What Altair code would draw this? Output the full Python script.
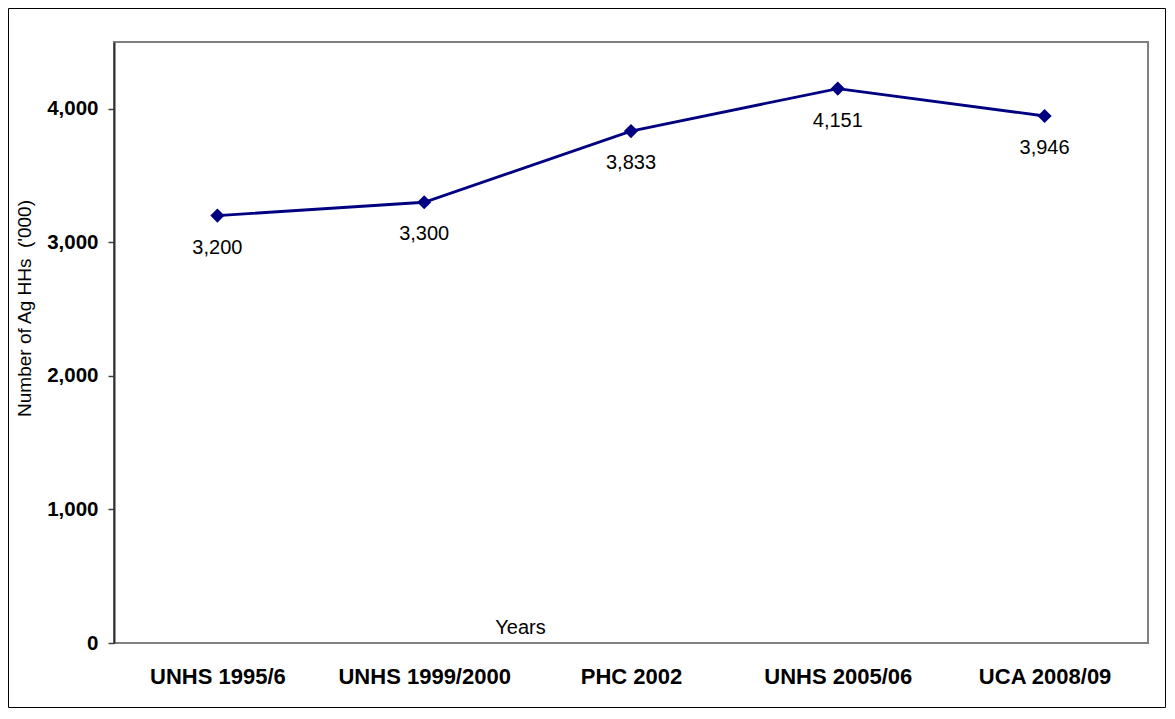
import altair as alt
import pandas as pd

categories = ["UNHS 1995/6", "UNHS 1999/2000", "PHC 2002", "UNHS 2005/06", "UCA 2008/09"]
values = [3200, 3300, 3833, 4151, 3946]
y_ticks = [0, 1000, 2000, 3000, 4000]

df = pd.DataFrame({"survey": categories, "hh": values})
frame_df = pd.DataFrame({"k": [0]})

FONT = "Liberation Sans"
W, H = 1034, 601
PAD = {"left": 106, "top": 34, "right": 18, "bottom": 65}

x_enc = alt.X(
    "survey:N",
    sort=categories,
    scale=alt.Scale(type="point", padding=0.5),
    axis=alt.Axis(
        title="Years",
        titleFont=FONT, titleFontSize=20, titleFontWeight="normal", titleColor="black",
        titleX=406, titleY=-10, titleAlign="center", titleBaseline="alphabetic",
        labelFont=FONT, labelFontSize=22, labelFontWeight="bold", labelColor="black",
        labelAngle=0, labelBaseline="alphabetic", labelPadding=40,
        ticks=False, tickSize=0, domain=False, grid=False,
    ),
)
y_enc = alt.Y(
    "hh:Q",
    scale=alt.Scale(domain=[0, 4500], nice=False),
    axis=alt.Axis(
        title="Number of Ag HHs\u00a0 ('000)",
        titleFont=FONT, titleFontSize=19, titleFontWeight="normal", titleColor="black",
        titleX=-90, titleY=266, titleAngle=-90, titleAlign="center", titleBaseline="middle",
        labelFont=FONT, labelFontSize=20.5, labelFontWeight="bold", labelColor="black",
        values=y_ticks, format=",.0f", labelPadding=10,
        tickSize=6, tickColor="#404040", tickWidth=1.5,
        domainColor="#303030", domainWidth=2, grid=False,
    ),
)

base = alt.Chart(df)
line = base.mark_line(color="#000080", strokeWidth=2.8).encode(x=x_enc, y=y_enc)
pts = base.mark_point(shape="diamond", filled=True, color="#000080", size=200, opacity=1).encode(
    x=alt.X("survey:N", sort=categories), y="hh:Q"
)
labels = base.mark_text(font=FONT, fontSize=20, color="black", dy=38, baseline="alphabetic", align="center").encode(
    x=alt.X("survey:N", sort=categories), y="hh:Q", text=alt.Text("hh:Q", format=",.0f")
)

frame = alt.Chart(frame_df).mark_rect(fill=None, stroke="black", strokeWidth=1, clip=False).encode(
    x=alt.value(-PAD["left"] + 0.5),
    x2=alt.value(W + PAD["right"] - 0.5),
    y=alt.value(-PAD["top"] + 0.5),
    y2=alt.value(H + PAD["bottom"] - 0.5),
)

chart = alt.layer(line, pts, labels, frame).properties(
    width=W, height=H,
    padding=PAD,
    autosize=alt.AutoSizeParams(type="none"),
    background="white",
).configure_view(stroke="#808080", strokeWidth=2)

chart.save("out.html", embed_options={"renderer": "svg", "actions": False})
